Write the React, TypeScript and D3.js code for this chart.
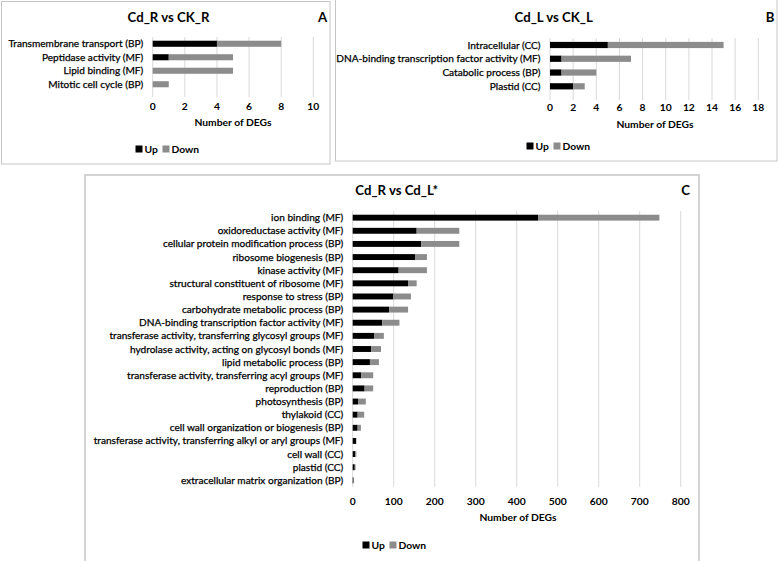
import * as d3 from "d3";

// panel A: Cd_R vs CK_R
const catsA = [
  "Transmembrane transport (BP)",
  "Peptidase activity (MF)",
  "Lipid binding (MF)",
  "Mitotic cell cycle (BP)",
];
const upA = [4, 1, 0, 0];
const downA = [4, 4, 5, 1];
const ticksA = [0, 2, 4, 6, 8, 10];

// panel B: Cd_L vs CK_L
const catsB = [
  "Intracellular (CC)",
  "DNA-binding transcription factor activity (MF)",
  "Catabolic process (BP)",
  "Plastid (CC)",
];
const upB = [5, 1, 1, 2];
const downB = [10, 6, 3, 1];
const ticksB = [0, 2, 4, 6, 8, 10, 12, 14, 16, 18];

// panel C: Cd_R vs Cd_L*
const catsC = [
  "ion binding (MF)",
  "oxidoreductase activity (MF)",
  "cellular protein modification process (BP)",
  "ribosome biogenesis (BP)",
  "kinase activity (MF)",
  "structural constituent of ribosome (MF)",
  "response to stress (BP)",
  "carbohydrate metabolic process (BP)",
  "DNA-binding transcription factor activity (MF)",
  "transferase activity, transferring glycosyl groups (MF)",
  "hydrolase activity, acting on glycosyl bonds (MF)",
  "lipid metabolic process (BP)",
  "transferase activity, transferring acyl groups (MF)",
  "reproduction (BP)",
  "photosynthesis (BP)",
  "thylakoid (CC)",
  "cell wall organization or biogenesis (BP)",
  "transferase activity, transferring alkyl or aryl groups (MF)",
  "cell wall (CC)",
  "plastid (CC)",
  "extracellular matrix organization (BP)",
];
const upC = [452, 156, 167, 152, 112, 135, 99, 89, 72, 52, 45, 42, 21, 29, 13, 12, 12, 8, 6, 5, 2];
const downC = [296, 104, 93, 29, 69, 21, 43, 46, 42, 24, 24, 22, 29, 21, 19, 16, 8, 1, 3, 2, 0];
const ticksC = [0, 100, 200, 300, 400, 500, 600, 700, 800];

const seriesNames = ["Up", "Down"];
const UP = "#000000";
const DOWN = "#8c8c8c";
const GRID = "#d9d9d9";
const BORDER = "#c6c6c6";
const FONT = "Lato, 'Open Sans', sans-serif";
const SMALL = 10.3;

interface PanelProps {
  title: string;
  letter: string;
  cats: string[];
  up: number[];
  down: number[];
  ticks: number[];
  box: [number, number, number, number]; // x, y, w, h
  x0: number;
  x1: number;
  yTop: number;
  yBottom: number;
  gridBottom: number;
  titleX: number;
  titleY: number;
  letterX: number;
  tickY: number;
  axisTitleX: number;
  axisTitleY: number;
  legendX: number;
  legendY: number;
  labelSize: number;
  borderWidth?: number;
}

function Panel(p: PanelProps) {
  const max = p.ticks[p.ticks.length - 1];
  const x = d3.scaleLinear().domain([0, max]).range([p.x0, p.x1]);
  const y = d3
    .scaleBand()
    .domain(p.cats)
    .range([p.yTop, p.yBottom])
    .paddingInner(0.55)
    .paddingOuter(0.275);
  const bh = y.bandwidth();
  const [bx, by, bw, bhh] = p.box;

  return (
    <g fontFamily={FONT}>
      <rect
        x={bx}
        y={by}
        width={bw}
        height={bhh}
        fill="#fff"
        stroke={BORDER}
        strokeWidth={p.borderWidth ?? 1}
      />
      <text x={p.titleX} y={p.titleY} textAnchor="middle" dy="0.35em" fontSize={13.2} fontWeight="bold" fill="#000">
        {p.title}
      </text>
      <text x={p.letterX} y={p.titleY} textAnchor="middle" dy="0.35em" fontSize={13.2} fontWeight="bold" fill="#000">
        {p.letter}
      </text>
      {p.ticks.map((t) => (
        <line key={t} x1={x(t)} x2={x(t)} y1={p.yTop} y2={p.gridBottom} stroke={GRID} strokeWidth={1} />
      ))}
      {p.cats.map((c, i) => {
        const yy = y(c)!;
        return (
          <g key={c}>
            <text
              x={p.x0 - 9.5}
              y={yy + bh / 2}
              dy="0.35em"
              textAnchor="end"
              fontSize={p.labelSize}
              fill="#000"
              stroke="#000"
              strokeWidth={0.25}
            >
              {c}
            </text>
            {p.up[i] > 0 && (
              <rect x={x(0)} y={yy} width={x(p.up[i]) - x(0)} height={bh} fill={UP} />
            )}
            {p.down[i] > 0 && (
              <rect
                x={x(p.up[i])}
                y={yy}
                width={x(p.up[i] + p.down[i]) - x(p.up[i])}
                height={bh}
                fill={DOWN}
              />
            )}
          </g>
        );
      })}
      {p.ticks.map((t) => (
        <text key={t} x={x(t)} y={p.tickY} dy="0.35em" textAnchor="middle" fontSize={SMALL} fontWeight="bold" fill="#000">
          {t}
        </text>
      ))}
      <text x={p.axisTitleX} y={p.axisTitleY} dy="0.35em" textAnchor="middle" fontSize={SMALL} fontWeight="bold" fill="#000">
        Number of DEGs
      </text>
      <g transform={`translate(${p.legendX - 31.5},${p.legendY})`}>
        <rect x={0} y={-3.5} width={7} height={7} fill={UP} />
        <text x={9} y={0} dy="0.35em" fontSize={SMALL} fontWeight="bold" fill="#000">
          {seriesNames[0]}
        </text>
        <rect x={27} y={-3.5} width={7} height={7} fill={DOWN} />
        <text x={36} y={0} dy="0.35em" fontSize={SMALL} fontWeight="bold" fill="#000">
          {seriesNames[1]}
        </text>
      </g>
    </g>
  );
}

export default function App() {
  return (
    <svg
      width={780}
      height={561}
      style={{ position: "absolute", left: 0, top: 0, background: "#fff" }}
    >
      <rect x={0} y={0} width={780} height={561} fill="#fff" />
      <Panel
        title="Cd_R vs CK_R"
        letter="A"
        cats={catsA}
        up={upA}
        down={downA}
        ticks={ticksA}
        box={[1.5, 1.5, 328.5, 162.5]}
        x0={152.7}
        x1={313.3}
        yTop={37}
        yBottom={91}
        gridBottom={97}
        titleX={168.5}
        titleY={17}
        letterX={322.5}
        tickY={106}
        axisTitleX={233}
        axisTitleY={122}
        legendX={167}
        legendY={149}
        labelSize={10.1}
      />
      <Panel
        title="Cd_L vs CK_L"
        letter="B"
        cats={catsB}
        up={upB}
        down={downB}
        ticks={ticksB}
        box={[335.5, -1, 441.5, 162]}
        x0={550}
        x1={758.3}
        yTop={38.1}
        yBottom={93.2}
        gridBottom={100}
        titleX={553.7}
        titleY={17.3}
        letterX={770}
        tickY={107.7}
        axisTitleX={655}
        axisTitleY={124}
        legendX={558}
        legendY={146}
        labelSize={10.1}
      />
      <Panel
        title="Cd_R vs Cd_L*"
        letter="C"
        cats={catsC}
        up={upC}
        down={downC}
        ticks={ticksC}
        box={[85, 175, 614, 390]}
        x0={352.7}
        x1={680.7}
        yTop={211.1}
        yBottom={486.9}
        gridBottom={486.9}
        titleX={396.7}
        titleY={190}
        letterX={685.7}
        tickY={501.7}
        axisTitleX={518}
        axisTitleY={517}
        legendX={394}
        legendY={545}
        labelSize={10.1}
        borderWidth={1.5}
      />
    </svg>
  );
}
